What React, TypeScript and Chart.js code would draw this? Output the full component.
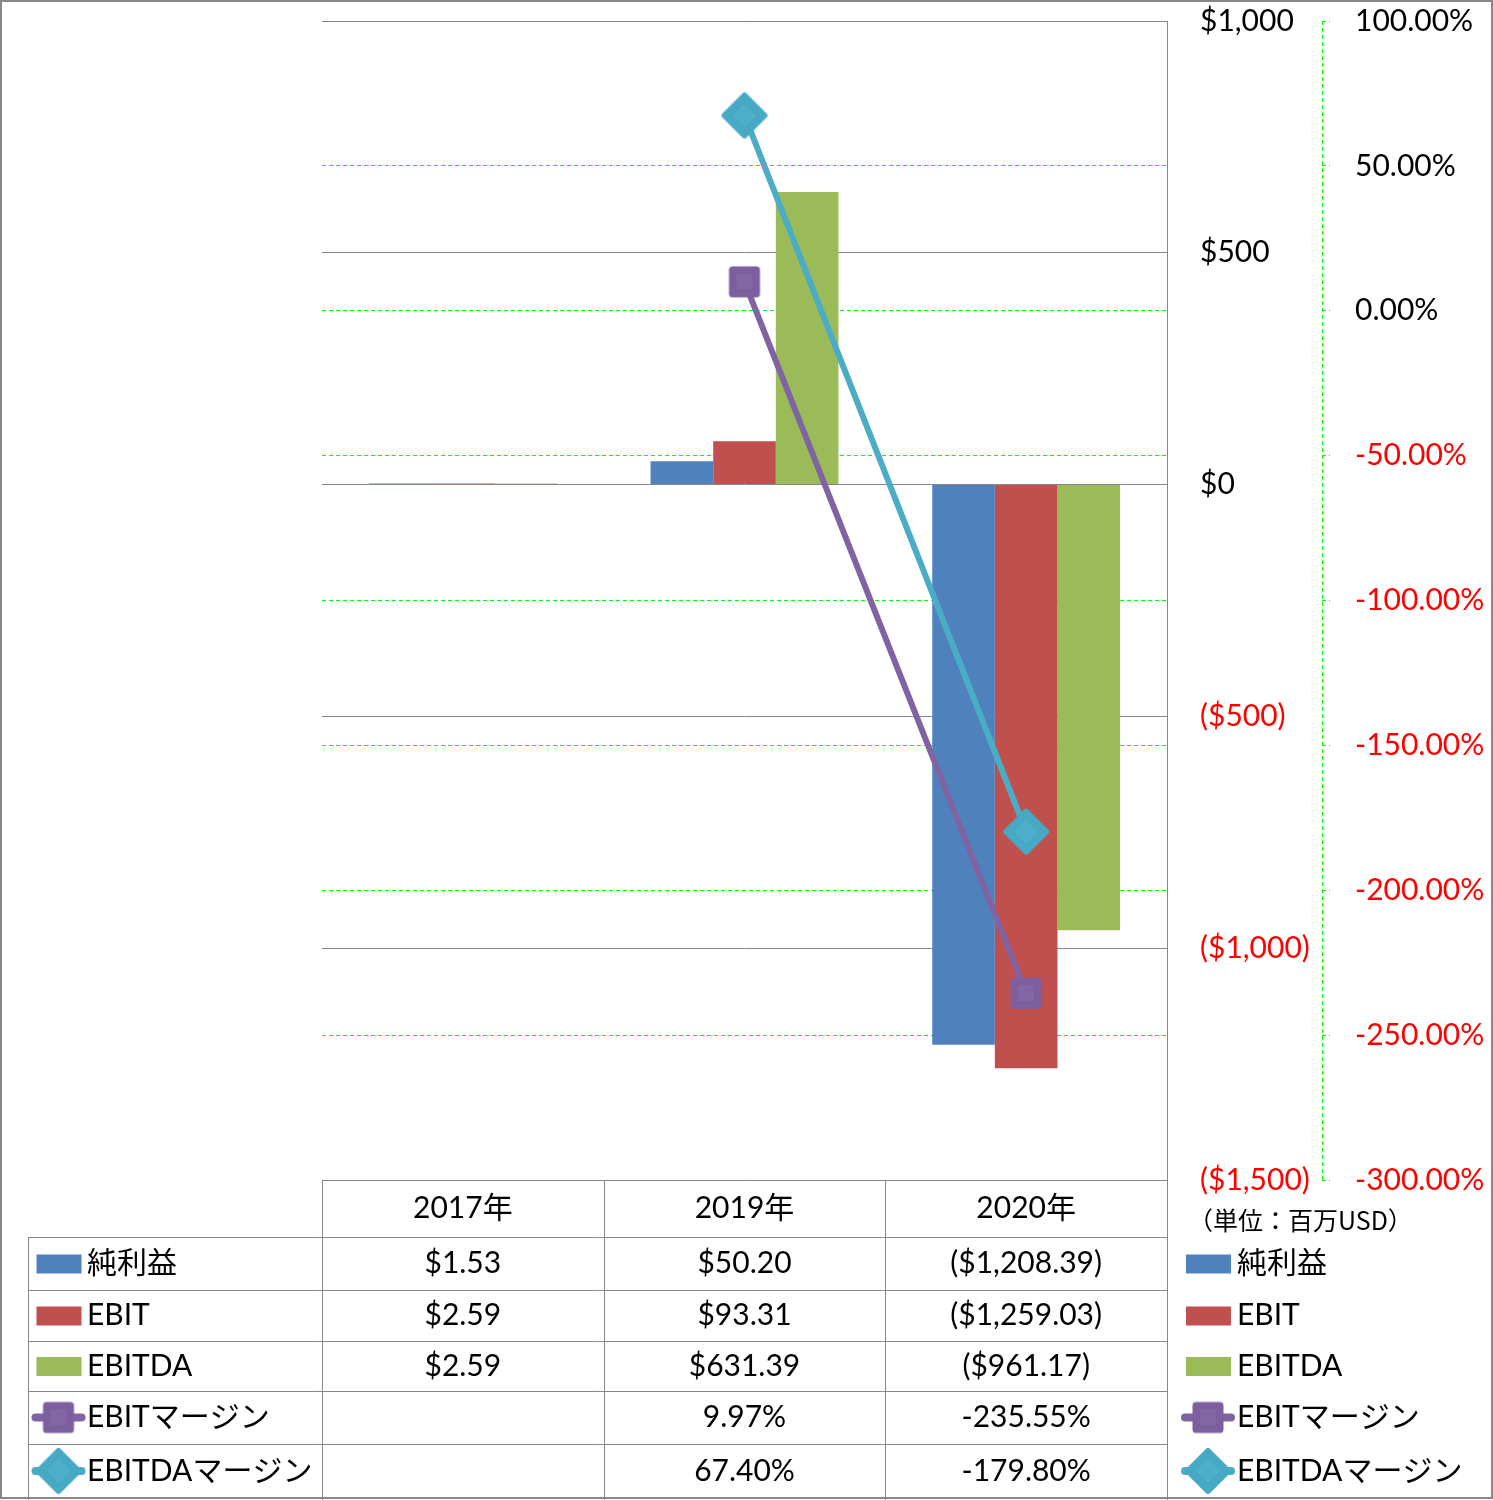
import React, { useEffect, useRef } from 'react';
import { Chart, registerables } from 'chart.js';

Chart.register(...registerables);

// ---- data ----
const categories = ['2017年', '2019年', '2020年'];
const netIncome = [1.53, 50.2, -1208.39];
const ebit = [2.59, 93.31, -1259.03];
const ebitda = [2.59, 631.39, -961.17];
const ebitMargin: (number | null)[] = [null, 9.97, -235.55];
const ebitdaMargin: (number | null)[] = [null, 67.4, -179.8];
const seriesNames = ['純利益', 'EBIT', 'EBITDA', 'EBITマージン', 'EBITDAマージン'];
const dollarRange = [-1500, 1000, 500];
const percentRange = [-300, 100, 50];
const unitLabel = '（単位：百万USD）';

const COLORS = ['#4F81BD', '#C0504D', '#9BBB59', '#8064A2', '#4BACC6'];
const FONT = 'Lato, "Noto Sans CJK JP", sans-serif';
const GRAY = '#878787';

function fmtDollar(v: number, d: number) {
  const s = '$' + Math.abs(v).toLocaleString('en-US', { minimumFractionDigits: d, maximumFractionDigits: d });
  return v < 0 ? `(${s})` : s;
}
function fmtPct(v: number | null) {
  return v === null ? '' : v.toFixed(2) + '%';
}

function makeSquare(color: string, inner: string) {
  const c = document.createElement('canvas');
  c.width = 34; c.height = 34;
  const g = c.getContext('2d')!;
  g.fillStyle = color;
  g.strokeStyle = color;
  g.lineJoin = 'round';
  g.lineWidth = 7;
  g.beginPath();
  g.rect(5, 5, 24, 24);
  g.fill();
  g.stroke();
  g.fillStyle = inner;
  g.fillRect(9, 9, 16, 16);
  return c;
}
function makeDiamond(color: string, inner: string) {
  const c = document.createElement('canvas');
  c.width = 48; c.height = 48;
  const g = c.getContext('2d')!;
  g.fillStyle = color;
  g.strokeStyle = color;
  g.lineJoin = 'round';
  g.lineWidth = 6;
  g.beginPath();
  g.moveTo(24, 4); g.lineTo(44, 24); g.lineTo(24, 44); g.lineTo(4, 24); g.closePath();
  g.fill();
  g.stroke();
  g.fillStyle = inner;
  g.beginPath();
  g.moveTo(24, 12); g.lineTo(36, 24); g.lineTo(24, 36); g.lineTo(12, 24); g.closePath();
  g.fill();
  return c;
}

export default function App() {
  const ref = useRef<HTMLCanvasElement | null>(null);

  useEffect(() => {
    const canvas = ref.current!;
    const sq = makeSquare('#7D5FA0', '#8466A6');
    const dm = makeDiamond('#47A9C4', '#4DAFC9');

    const rowEdges = [1237, 1290, 1341, 1391, 1444, 1498];

    const drawKey = (ctx: CanvasRenderingContext2D, idx: number, cx: number, cy: number) => {
      const color = COLORS[idx];
      if (idx < 3) {
        ctx.fillStyle = color;
        ctx.fillRect(cx - 22, cy - 9, 45, 19);
      } else {
        ctx.strokeStyle = color;
        ctx.lineWidth = 8;
        ctx.lineCap = 'round';
        ctx.beginPath();
        ctx.moveTo(cx - 23, cy);
        ctx.lineTo(cx + 23, cy);
        ctx.stroke();
        const img = idx === 3 ? sq : dm;
        ctx.drawImage(img, cx - img.width / 2, cy - img.height / 2);
      }
    };

    const tablePlugin = {
      id: 'tablePlugin',
      afterDraw(chart: any) {
        const ctx: CanvasRenderingContext2D = chart.ctx;
        const area = chart.chartArea;
        const xs = chart.scales.x;
        const y1 = chart.scales.y1;
        const colW = (area.right - area.left) / categories.length;
        const headerTop = area.bottom;
        ctx.save();
        // percent axis dashed line
        ctx.strokeStyle = '#00FF00';
        ctx.lineWidth = 1;
        ctx.setLineDash([4, 3]);
        ctx.beginPath();
        ctx.moveTo(Math.round(y1.left) + 0.5, area.top);
        ctx.lineTo(Math.round(y1.left) + 0.5, area.bottom);
        ctx.stroke();
        ctx.setLineDash([]);

        // table grid + top plot line
        ctx.strokeStyle = GRAY;
        ctx.lineWidth = 1;
        ctx.beginPath();
        ctx.moveTo(area.left, Math.round(area.top) + 0.5);
        ctx.lineTo(area.right, Math.round(area.top) + 0.5);
        ctx.moveTo(area.left, Math.round(headerTop) + 0.5);
        ctx.lineTo(area.right, Math.round(headerTop) + 0.5);
        for (let i = 0; i < rowEdges.length - 1; i++) {
          ctx.moveTo(28, rowEdges[i] + 0.5);
          ctx.lineTo(area.right, rowEdges[i] + 0.5);
        }
        ctx.moveTo(28.5, rowEdges[0]);
        ctx.lineTo(28.5, 1500);
        for (let i = 0; i <= categories.length; i++) {
          const x = Math.round(area.left + i * colW) + 0.5;
          ctx.moveTo(x, i === categories.length ? area.top : headerTop);
          ctx.lineTo(x, 1500);
        }
        ctx.stroke();

        // header
        ctx.fillStyle = '#000';
        ctx.font = `30px ${FONT}`;
        ctx.textBaseline = 'middle';
        ctx.textAlign = 'center';
        categories.forEach((c, i) => {
          ctx.fillText(c, xs.getPixelForValue(i), (headerTop + rowEdges[0]) / 2);
        });
        const rows: string[][] = [
          netIncome.map((v) => fmtDollar(v, 2)),
          ebit.map((v) => fmtDollar(v, 2)),
          ebitda.map((v) => fmtDollar(v, 2)),
          ebitMargin.map(fmtPct),
          ebitdaMargin.map(fmtPct),
        ];
        rows.forEach((r, ri) => {
          const cy = (rowEdges[ri] + rowEdges[ri + 1]) / 2;
          ctx.textAlign = 'center';
          ctx.fillStyle = '#000';
          r.forEach((t, ci) => ctx.fillText(t, xs.getPixelForValue(ci), cy));
          // left legend column
          drawKey(ctx, ri, 58.5, cy);
          ctx.fillStyle = '#000';
          ctx.textAlign = 'left';
          ctx.fillText(seriesNames[ri], 87, cy);
          // right legend
          drawKey(ctx, ri, 1208, cy);
          ctx.fillStyle = '#000';
          ctx.fillText(seriesNames[ri], 1237, cy);
        });

        // unit label
        ctx.font = `25px "Noto Sans CJK JP", sans-serif`;
        ctx.textAlign = 'left';
        ctx.fillText(unitLabel, 1188, 1220);

        // outer border
        ctx.strokeStyle = GRAY;
        ctx.lineWidth = 2;
        ctx.strokeRect(1, 1, 1491, 1497);
        ctx.restore();
      },
    };

    const noPad = (w: number) => (s: any) => {
      s.width = w;
      s.paddingTop = 0;
      s.paddingBottom = 0;
    };

    const barOpts = { yAxisID: 'y', order: 2, categoryPercentage: 0.667, barPercentage: 1, minBarLength: 1 };

    const chart = new Chart(canvas, {
      type: 'bar',
      data: {
        labels: categories,
        datasets: [
          { type: 'bar', label: seriesNames[0], data: netIncome, backgroundColor: COLORS[0], ...barOpts },
          { type: 'bar', label: seriesNames[1], data: ebit, backgroundColor: COLORS[1], ...barOpts },
          { type: 'bar', label: seriesNames[2], data: ebitda, backgroundColor: COLORS[2], ...barOpts },
          { type: 'line', label: seriesNames[3], data: ebitMargin, borderColor: COLORS[3], borderWidth: 6, borderCapStyle: 'round', pointStyle: sq, pointRadius: 17, pointBorderWidth: 0, pointHoverRadius: 0, yAxisID: 'y1', order: 1, tension: 0 },
          { type: 'line', label: seriesNames[4], data: ebitdaMargin, borderColor: COLORS[4], borderWidth: 6, borderCapStyle: 'round', pointStyle: dm, pointRadius: 22, pointBorderWidth: 0, pointHoverRadius: 0, yAxisID: 'y1', order: 0, tension: 0 },
        ] as any,
      },
      options: {
        responsive: false,
        animation: false,
        devicePixelRatio: 1,
        layout: { autoPadding: false, padding: { left: 322, top: 21, right: 0, bottom: 320 } },
        plugins: { legend: { display: false }, tooltip: { enabled: false } },
        scales: {
          x: { type: 'category', display: false, offset: true, grid: { display: false } },
          y: {
            position: 'right',
            weight: 0,
            min: dollarRange[0],
            max: dollarRange[1],
            ticks: {
              stepSize: dollarRange[2],
              padding: 33,
              font: { family: FONT, size: 30 },
              color: (c: any) => (c.tick && c.tick.value < 0 ? '#FF0000' : '#000000'),
              callback: (v: any) => fmtDollar(Number(v), 0),
            },
            grid: { color: GRAY, lineWidth: 1, drawTicks: false },
            border: { display: true, color: GRAY, width: 1 },
            afterFit: noPad(155),
          },
          y1: {
            position: 'right',
            weight: 1,
            min: percentRange[0],
            max: percentRange[1],
            ticks: {
              stepSize: percentRange[2],
              padding: 25,
              font: { family: FONT, size: 30 },
              color: (c: any) => (c.tick && c.tick.value < 0 ? '#FF0000' : '#000000'),
              callback: (v: any) => Number(v).toFixed(2) + '%',
            },
            grid: { color: '#00FF00', lineWidth: 1, drawTicks: true, tickLength: 8, tickColor: '#00FF00', tickBorderDash: [4, 3] },
            border: { display: false, dash: [4, 3] },
            afterFit: noPad(171),
          },
        } as any,
      },
      plugins: [tablePlugin],
    });
    return () => chart.destroy();
  }, []);

  return (
    <div style={{ position: 'absolute', left: 0, top: 0, width: 1493, height: 1500, background: '#fff' }}>
      <canvas ref={ref} width={1493} height={1500} style={{ display: 'block' }} />
    </div>
  );
}
